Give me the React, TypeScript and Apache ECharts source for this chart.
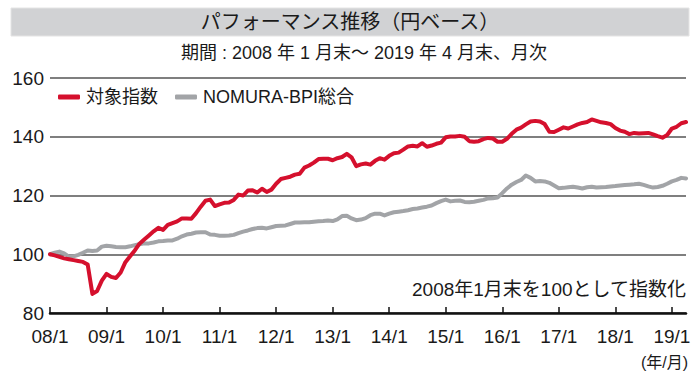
import React, { useEffect, useRef } from "react";
import * as echarts from "echarts";

const START_YEAR = 2008;
const MONTH_COUNT = 136; // 2008/1 .. 2019/4

const indexName = "対象指数";
const bpiName = "NOMURA-BPI総合";

const indexValues = [
  100, 99.6, 99.1, 98.6, 98.3, 98.0, 97.7, 97.4, 96.5, 86.5,
  87.5, 91.0, 93.3, 92.3, 91.9, 93.8, 97.3, 99.3, 101.3, 103.6,
  105.0, 106.4, 107.8, 109.0, 108.3, 110.0, 110.6, 111.2, 112.2, 112.2,
  112.1, 114.0, 116.2, 118.2, 118.6, 116.4, 117.0, 117.5, 117.6, 118.5,
  120.3, 120.0, 121.7, 121.8, 121.0, 122.3, 121.2, 122.0, 124.0, 125.6,
  126.0, 126.4, 127.1, 127.4, 129.5, 130.2, 131.2, 132.4, 132.5, 132.5,
  132.0, 132.7, 133.1, 134.2, 133.0, 130.0, 130.6, 130.9, 130.5, 131.8,
  132.7, 132.2, 133.5, 134.4, 134.6, 135.6, 136.7, 136.9, 136.7, 137.8,
  136.6, 137.0, 137.6, 138.0, 139.8, 140.1, 140.1, 140.3, 140.0, 138.5,
  138.3, 138.5, 139.2, 139.6, 139.4, 138.3, 138.3, 139.3, 141.0, 142.4,
  143.1, 144.2, 145.2, 145.4, 145.2, 144.3, 141.7, 141.6, 142.4, 143.2,
  142.8, 143.5, 144.2, 144.7, 145.0, 145.9, 145.4, 144.9, 144.7, 144.3,
  143.0, 142.1, 141.7, 140.9, 141.3, 141.1, 141.2, 141.3, 140.8, 140.2,
  139.7, 140.6, 142.8, 143.4, 144.6, 145.0,
];

const bpiValues = [
  100, 100.5, 100.9, 100.3, 99.2, 99.3, 99.8, 100.5, 101.3, 101.1,
  101.3, 102.6, 102.9, 102.7, 102.5, 102.4, 102.4, 102.7, 103.1, 103.4,
  103.7, 103.7, 104.0, 104.4, 104.5, 104.7, 104.7, 105.3, 106.1, 106.7,
  107.0, 107.4, 107.5, 107.5, 106.7, 106.6, 106.3, 106.3, 106.4, 106.6,
  107.2, 107.7, 108.1, 108.6, 108.9, 109.0, 108.8, 109.2, 109.6, 109.7,
  109.8, 110.3, 110.8, 110.8, 110.9, 110.9, 111.1, 111.2, 111.3, 111.5,
  111.3, 111.9, 113.0, 113.1, 112.2, 111.6, 111.8, 112.3, 113.3, 113.8,
  113.8, 113.2, 113.8, 114.3, 114.5, 114.7, 115.0, 115.4, 115.6, 115.9,
  116.2, 116.6, 117.4, 118.1, 118.6, 118.0, 118.2, 118.3, 117.8, 117.7,
  117.9, 118.2, 118.5, 119.0, 119.1, 119.3, 120.8, 122.4, 123.7, 124.6,
  125.3, 126.8, 126.0, 124.8, 124.9, 124.8, 124.3, 123.4, 122.5, 122.6,
  122.8, 123.0, 122.7, 122.4, 122.8, 123.0, 122.7, 122.8, 122.9, 123.1,
  123.2, 123.4, 123.6, 123.7, 123.8, 124.0, 123.6, 123.1, 122.7, 122.9,
  123.3, 124.0, 124.8, 125.3, 126.0, 125.8,
];

const yTicks = { min: 80, max: 160, interval: 20 };

const titleText = "パフォーマンス推移（円ベース）";
const subtitleText = "期間 : 2008 年 1 月末～ 2019 年 4 月末、月次";
const noteText = "2008年1月末を100として指数化";
const unitText = "(年/月)";

const categories: string[] = [];
for (let k = 0; k < MONTH_COUNT; k++) {
  const y = START_YEAR + Math.floor(k / 12);
  const m = (k % 12) + 1;
  categories.push(`${String(y % 100).padStart(2, "0")}/${m}`);
}

const FONT = '"Liberation Sans", "Noto Sans CJK JP", sans-serif';
const RED = "#d5102d";
const GRAY = "#a2a4a7";

export default function App() {
  const ref = useRef<HTMLDivElement>(null);
  useEffect(() => {
    if (!ref.current) return;
    const chart = echarts.init(ref.current, undefined, { renderer: "svg" });
    chart.setOption({
      animation: false,
      backgroundColor: "#ffffff",
      textStyle: { fontFamily: FONT },
      grid: { left: 50, right: 14, top: 78, bottom: 59 },
      legend: {
        data: [indexName, bpiName],
        left: 58,
        top: 88,
        padding: 0,
        itemWidth: 22,
        itemHeight: 5,
        itemGap: 17,
        icon: "roundRect",
        textStyle: { fontSize: 18, color: "#1a1a1a", fontFamily: FONT, padding: [0, 0, 0, 1] },
      },
      xAxis: {
        type: "category",
        data: categories,
        boundaryGap: false,
        axisLine: { lineStyle: { color: "#111", width: 2.5 } },
        axisTick: { inside: true, length: 6, interval: 11, lineStyle: { color: "#111", width: 1.5 } },
        axisLabel: { interval: 11, margin: 14, fontSize: 19, color: "#1a1a1a", fontFamily: FONT },
        splitLine: { show: false },
      },
      yAxis: {
        type: "value",
        min: yTicks.min,
        max: yTicks.max,
        interval: yTicks.interval,
        axisLine: { show: false },
        axisTick: { show: false },
        axisLabel: { margin: 6, fontSize: 19, color: "#1a1a1a", fontFamily: FONT },
        splitLine: { lineStyle: { color: "#555", width: 1.5 } },
      },
      series: [
        {
          name: bpiName,
          type: "line",
          data: bpiValues,
          showSymbol: false,
          color: GRAY,
          lineStyle: { width: 4, color: GRAY, cap: "round", join: "round" },
        },
        {
          name: indexName,
          type: "line",
          data: indexValues,
          showSymbol: false,
          color: RED,
          lineStyle: { width: 4, color: RED, cap: "round", join: "round" },
        },
      ],
      graphic: [
        {
          type: "rect",
          shape: { x: 11, y: 8, width: 678, height: 28 },
          style: { fill: "#d1d2d4", stroke: "#e4e4e4", lineWidth: 1 },
        },
        {
          type: "text",
          x: 350,
          y: 22,
          style: {
            text: titleText,
            fontSize: 20,
            fontFamily: FONT,
            fill: "#1a1a1a",
            align: "center",
            verticalAlign: "middle",
          },
        },
        {
          type: "text",
          x: 364,
          y: 53,
          style: {
            text: subtitleText,
            fontSize: 18,
            fontFamily: FONT,
            fill: "#1a1a1a",
            align: "center",
            verticalAlign: "middle",
          },
        },
        {
          type: "text",
          x: 686,
          y: 289,
          style: {
            text: noteText,
            fontSize: 19,
            fontFamily: FONT,
            fill: "#1a1a1a",
            align: "right",
            verticalAlign: "middle",
          },
        },
        {
          type: "text",
          x: 688,
          y: 362,
          style: {
            text: unitText,
            fontSize: 16,
            fontFamily: FONT,
            fill: "#1a1a1a",
            align: "right",
            verticalAlign: "middle",
          },
        },
      ],
    });
    return () => chart.dispose();
  }, []);
  return (
    <div
      ref={ref}
      style={{ position: "fixed", left: 0, top: 0, width: 700, height: 372, background: "#fff" }}
    />
  );
}
